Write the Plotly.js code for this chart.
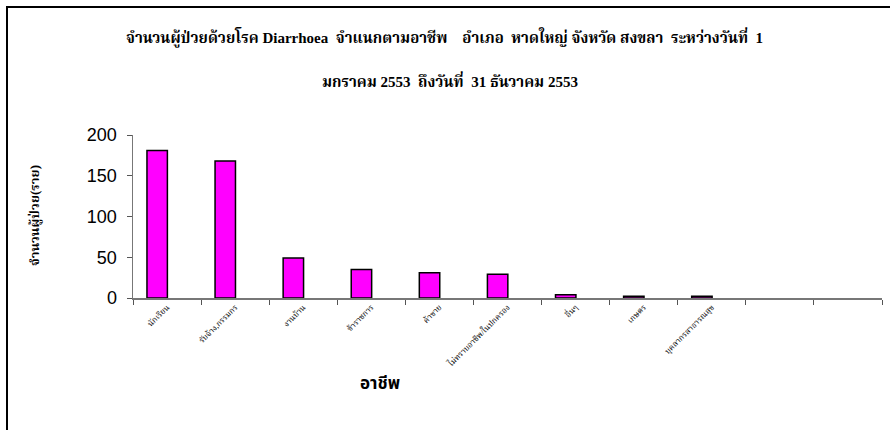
<!DOCTYPE html>
<html>
<head>
<meta charset="utf-8">
<script src="https://cdn.plot.ly/plotly-3.0.1.min.js"></script>
<style>
  html, body { margin: 0; padding: 0; background: #fff; }
  #frame { position: absolute; left: 0; top: 0; width: 890px; height: 430px; }
  #border { position: absolute; left: 6px; top: 6px; width: 900px; height: 440px;
            border-left: 2px solid #000; border-top: 2px solid #000; pointer-events: none; }
  #chart { position: absolute; left: 0; top: 0; width: 890px; height: 430px; }
</style>
</head>
<body>
<div id="frame">
  <div id="chart"></div>
  <div id="border"></div>
</div>
<script>
// Data
const occupations = ["นักเรียน", "รับจ้าง,กรรมกร", "งานบ้าน", "ข้าราชการ", "ค้าขาย",
  "ไม่ทราบอาชีพ/ในปกครอง", "อื่นๆ", "เกษตร", "บุคลากรสาธารณสุข"];
const cases = [181, 168, 49, 35, 31, 29, 4, 2, 2];
const emptySlots = [" ", "  "];
const yTicks = [0, 50, 100, 150, 200];

const titleLine1 = "จำนวนผู้ป่วยด้วยโรค Diarrhoea  จำแนกตามอาชีพ    อำเภอ  หาดใหญ่ จังหวัด สงขลา  ระหว่างวันที่  1";
const titleLine2 = "มกราคม 2553  ถึงวันที่  31 ธันวาคม 2553";
const yTitle = "จำนวนผู้ป่วย(ราย)";
const xTitle = "อาชีพ";

const serif = "Liberation Serif, 'Noto Serif Thai', 'Noto Sans Thai', serif";
const sans = "Liberation Sans, Arial, 'Noto Sans Thai', sans-serif";

const trace = {
  type: "bar",
  x: occupations,
  y: cases,
  width: 0.3,
  offset: -0.295,
  marker: { color: "#FF00FF", line: { color: "#000000", width: 1.5 } },
  hoverinfo: "x+y"
};

const layout = {
  width: 890, height: 430,
  margin: { l: 133, r: 8, t: 135, b: 132 },
  paper_bgcolor: "#ffffff",
  plot_bgcolor: "#ffffff",
  showlegend: false,
  bargap: 0,
  xaxis: {
    type: "category",
    categoryorder: "array",
    categoryarray: occupations.concat(emptySlots),
    range: [-0.5, occupations.length + emptySlots.length - 0.5],
    tickson: "boundaries",
    ticks: "outside", ticklen: 5, tickwidth: 1, tickcolor: "#555",
    showline: true, linecolor: "#777", linewidth: 1.5,
    showgrid: false, zeroline: false,
    tickangle: -45,
    tickfont: { family: serif, size: 8, color: "#000" },
    fixedrange: true
  },
  yaxis: {
    range: [0, 200],
    tickvals: yTicks,
    ticks: "outside", ticklen: 5, tickwidth: 1, tickcolor: "#555",
    ticklabelstandoff: 6,
    showline: true, linecolor: "#777", linewidth: 1.5,
    showgrid: false, zeroline: false,
    tickfont: { family: sans, size: 18, color: "#000" },
    fixedrange: true
  },
  annotations: [
    { text: "<b>" + titleLine1 + "</b>", xref: "paper", yref: "paper",
      x: (444 - 133) / 749, y: 1 + (135 - 38) / 163, xanchor: "center", yanchor: "middle",
      showarrow: false, font: { family: serif, size: 15, color: "#000" } },
    { text: "<b>" + titleLine2 + "</b>", xref: "paper", yref: "paper",
      x: (450 - 133) / 749, y: 1 + (135 - 80) / 163, xanchor: "center", yanchor: "middle",
      showarrow: false, font: { family: serif, size: 15, color: "#000" } },
    { text: "<b>" + yTitle + "</b>", xref: "paper", yref: "paper",
      x: (35 - 133) / 749, y: (298 - 216) / 163, xanchor: "center", yanchor: "middle",
      textangle: -90, showarrow: false, font: { family: serif, size: 13, color: "#000" } },
    { text: "<b>" + xTitle + "</b>", xref: "paper", yref: "paper",
      x: (380 - 133) / 749, y: -(383 - 298) / 163, xanchor: "center", yanchor: "middle",
      showarrow: false, font: { family: sans, size: 17, color: "#000" } }
  ]
};

Plotly.newPlot("chart", [trace], layout, { displayModeBar: false, staticPlot: true });
</script>
</body>
</html>
